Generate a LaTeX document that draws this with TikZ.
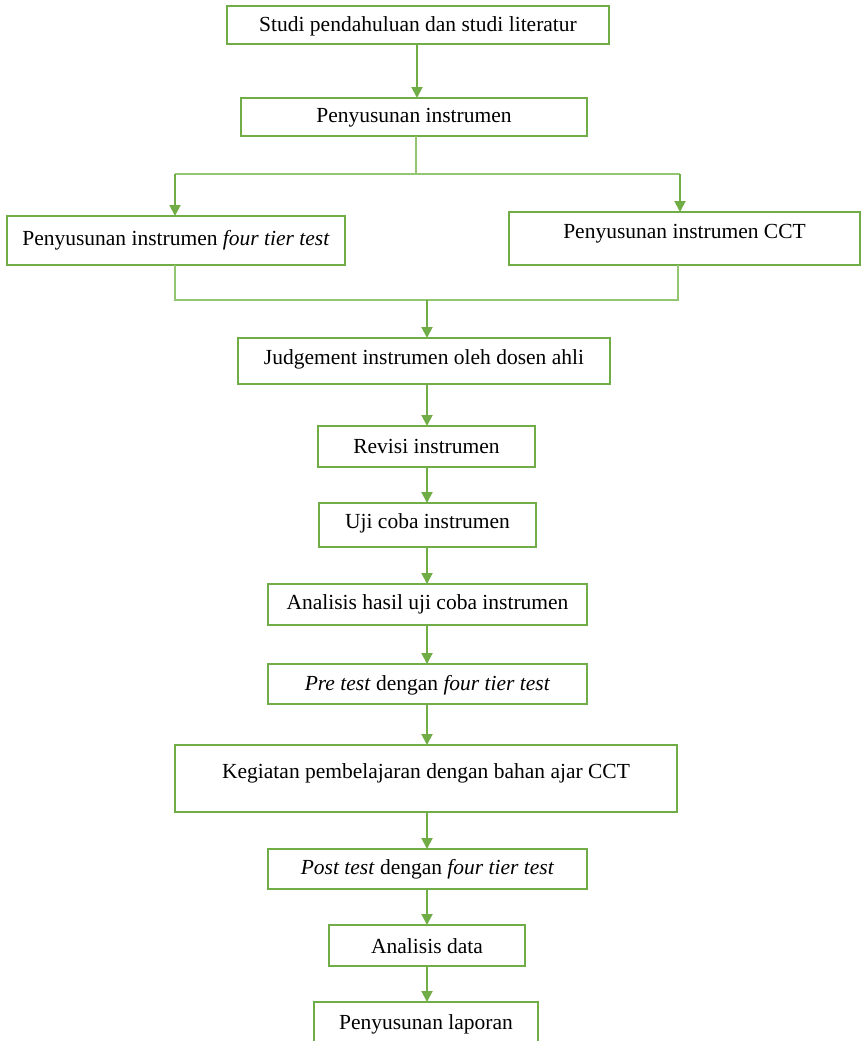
\documentclass[tikz,border=0pt]{standalone}
\usepackage{fontspec}
\setmainfont{Liberation Serif}
\usetikzlibrary{arrows.meta}
\definecolor{gr}{HTML}{70AD47}
\definecolor{lgr}{HTML}{93C572}
\tikzset{
  box/.style={draw=gr, line width=2pt, inner sep=0pt, outer sep=0pt, rectangle},
  arr/.style={draw=gr, line width=2pt, -{Triangle[width=11pt,length=11pt]}},
  ln/.style={draw=lgr, line width=1.8pt},
  txt/.style={font=\fontsize{21.5}{25}\selectfont, inner sep=0pt, text=black}
}
\newcommand{\mkbox}[7]{%
  \node[box, minimum width={#4pt-#2pt}, minimum height={#5pt-#3pt}] (#1) at ({(#2+#4)/2},{(#3+#5)/2}) {};
  \node[txt] (#1t) at ({(#2+#4)/2},#7) {#6};
}
\begin{document}
\begin{tikzpicture}[x=1pt,y=-1pt]
\useasboundingbox (0,0) rectangle (861,1041);
\mkbox{b1}{227}{6}{609}{44}{Studi pendahuluan dan studi literatur}{26}
\mkbox{b2}{241}{98}{587}{136}{Penyusunan instrumen}{118}
\mkbox{b3}{7}{216}{345}{265}{Penyusunan instrumen \textit{four tier test}}{240}
\mkbox{b4}{509}{212}{860}{265}{Penyusunan instrumen CCT}{234}
\mkbox{b5}{238}{338}{610}{384}{Judgement instrumen oleh dosen ahli}{359}
\mkbox{b6}{318}{426}{535}{467}{Revisi instrumen}{446}
\mkbox{b7}{319}{503}{536}{547}{Uji coba instrumen}{523}
\mkbox{b8}{268}{584}{587}{625}{Analisis hasil uji coba instrumen}{604}
\mkbox{b9}{268}{664}{587}{704}{\textit{Pre test} dengan \textit{four tier test}}{685}
\mkbox{b10}{175}{745}{677}{812}{Kegiatan pembelajaran dengan bahan ajar CCT}{773}
\mkbox{b11}{268}{849}{587}{889}{\textit{Post test} dengan \textit{four tier test}}{869}
\mkbox{b12}{329}{925}{525}{966}{Analisis data}{946}
\mkbox{b13}{314}{1002}{538}{1050}{Penyusunan laporan}{1024}
\coordinate (xa) at (417,0);
\coordinate (j1) at (416,174);
\coordinate (l1) at (175,174);
\coordinate (r1) at (680,174);
\coordinate (l2) at (175,300);
\coordinate (r2) at (678,300);
\coordinate (j2) at (427,300);
\coordinate (xc) at (427,0);
\draw[arr] (b1.south -| xa) -- (b2.north -| xa);
\draw[ln] (b2.south -| j1) -- (j1);
\draw[ln] (l1) -- (r1);
\draw[arr] (l1) -- (b3.north -| l1);
\draw[arr] (r1) -- (b4.north -| r1);
\draw[ln] (b3.south -| l2) -- (l2) -- (r2) -- (b4.south -| r2);
\draw[arr] (j2) -- (b5.north -| j2);
\draw[arr] (b5.south -| xc) -- (b6.north -| xc);
\draw[arr] (b6.south -| xc) -- (b7.north -| xc);
\draw[arr] (b7.south -| xc) -- (b8.north -| xc);
\draw[arr] (b8.south -| xc) -- (b9.north -| xc);
\draw[arr] (b9.south -| xc) -- (b10.north -| xc);
\draw[arr] (b10.south -| xc) -- (b11.north -| xc);
\draw[arr] (b11.south -| xc) -- (b12.north -| xc);
\draw[arr] (b12.south -| xc) -- (b13.north -| xc);
\end{tikzpicture}
\end{document}
